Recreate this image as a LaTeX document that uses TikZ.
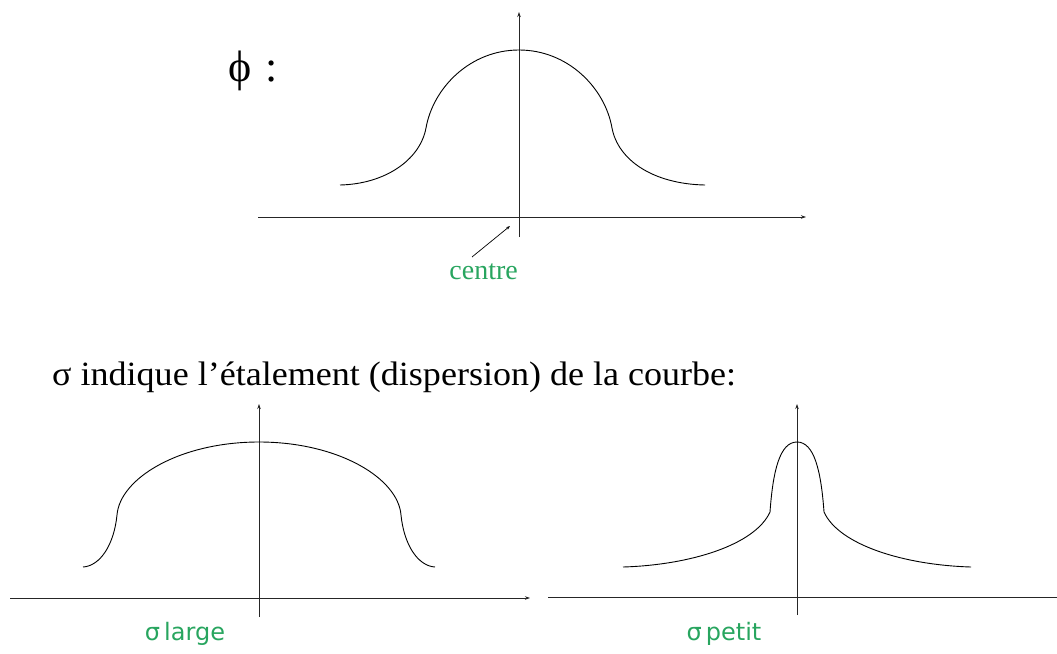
\documentclass[tikz,border=0pt]{standalone}
\usepackage{fontspec}
\setmainfont{Liberation Serif}
\newfontfamily\sentfont[FakeStretch=1.06]{Liberation Serif}
\newfontfamily\sansf{DejaVu Sans}
\usetikzlibrary{arrows.meta}
\definecolor{lblgreen}{RGB}{40,165,95}
\begin{document}
\begin{tikzpicture}[x=1pt,y=-1pt,
  axis/.style={line width=0.8pt,draw=black!85,-{Stealth[length=5pt,width=3.5pt]}},
  plain/.style={line width=0.8pt,draw=black!85},
  curve/.style={line width=0.9pt,draw=black},
  lbl/.style={text=lblgreen,inner sep=0pt},
  txt/.style={inner sep=0pt,anchor=base west}]
\useasboundingbox (0,0) rectangle (1057,653);
% ---------- top plot ----------
\coordinate (t-xl) at (258,217);
\coordinate (t-xr) at (806,217);
\coordinate (t-yb) at (519,237);
\coordinate (t-yt) at (519,12);
\draw[axis] (t-xl) -- (t-xr);
\draw[axis] (t-yb) -- (t-yt);
\draw[curve] (340,185) .. controls (385,184) and (420,160) .. (426,128)
  .. controls (433,88) and (470,50) .. (519,50)
  .. controls (568,50) and (605,88) .. (612,128)
  .. controls (618,160) and (653,184) .. (705,185);
\node[txt,font=\fontsize{44}{44}\selectfont] (phi) at (228,81) {ϕ\hspace{14pt}:};
\node[lbl,anchor=north east,font=\fontsize{28}{28}\selectfont] (centre) at (518,264) {centre};
\coordinate (c-tail) at (472,257);
\coordinate (c-tip) at (510,226);
\draw[line width=0.7pt,-{Stealth[length=4pt,width=3pt]}] (c-tail) -- (c-tip);
% ---------- sentence ----------
\node[txt,font=\sentfont\fontsize{34}{34}\selectfont] (sent) at (52,385) {σ indique l’étalement (dispersion) de la courbe:};
% ---------- bottom left ----------
\coordinate (l-xl) at (10,598);
\coordinate (l-xr) at (530,598);
\coordinate (l-yb) at (259,617);
\coordinate (l-yt) at (259,404);
\draw[axis] (l-xl) -- (l-xr);
\draw[axis] (l-yb) -- (l-yt);
\draw[curve] (83,567) .. controls (100,566) and (114,545) .. (117,515)
  .. controls (120,478) and (180,442) .. (259,442)
  .. controls (338,442) and (398,478) .. (401,515)
  .. controls (404,545) and (418,566) .. (435,567);
\node[lbl,font=\sansf\fontsize{24}{24}\selectfont] (slarge) at (185,634) {σ\,large};
% ---------- bottom right ----------
\coordinate (r-xl) at (548,597);
\coordinate (r-xr) at (1057,597);
\coordinate (r-yb) at (797,615);
\coordinate (r-yt) at (797,404);
\draw[plain] (r-xl) -- (r-xr);
\draw[axis] (r-yb) -- (r-yt);
\draw[curve] (623,567) .. controls (690,565) and (755,545) .. (770,512)
  .. controls (773,470) and (780,442) .. (797,442)
  .. controls (814,442) and (821,470) .. (824,512)
  .. controls (839,545) and (904,565) .. (971,567);
\node[lbl,font=\sansf\fontsize{24}{24}\selectfont] (spetit) at (724,634) {σ\,petit};
\end{tikzpicture}
\end{document}
